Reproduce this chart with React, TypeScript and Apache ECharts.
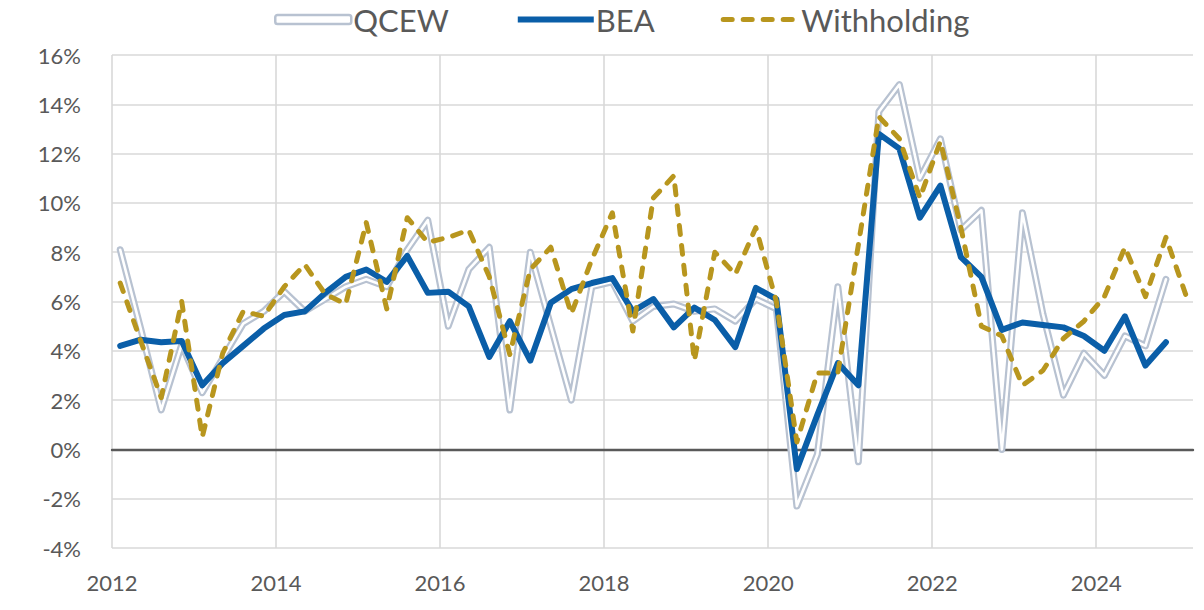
import React, { useEffect, useRef } from "react";
import * as echarts from "echarts";

const startYear = 2012;
const xMin = 2012;
const xMax = 2025.18;
const yMin = -4;
const yMax = 16;

// Quarterly growth rates, 2012Q1 .. 2024Q4 (BEA, QCEW), .. 2025Q1 (Withholding)
const bea = [
  4.2, 4.45, 4.35, 4.4, 2.6, 3.5, 4.2, 4.9, 5.45, 5.6, 6.35, 7.0, 7.3, 6.8, 7.85, 6.35,
  6.4, 5.8, 3.75, 5.2, 3.6, 5.95, 6.5, 6.75, 6.95, 5.6, 6.1, 4.95, 5.75, 5.25, 4.15, 6.55,
  6.1, -0.8, 1.4, 3.5, 2.6, 12.8, 12.2, 9.4, 10.7, 7.8, 7.0, 4.85, 5.15, 5.05, 4.95, 4.6,
  4.0, 5.4, 3.4, 4.35,
];
const qcew = [
  8.1, 4.9, 1.6, 4.25, 2.3, 3.7, 5.1, 5.6, 6.4, 5.6, 6.1, 6.6, 6.9, 6.6, 8.1, 9.3,
  5.0, 7.3, 8.2, 1.6, 8.0, 5.0, 2.0, 6.6, 6.8, 5.2, 5.8, 5.9, 5.6, 5.7, 5.2, 6.1,
  5.7, -2.3, -0.2, 6.6, -0.5, 13.7, 14.8, 11.0, 12.6, 8.9, 9.7, 0.0, 9.6, 5.5, 2.2, 3.9,
  3.0, 4.6, 4.2, 6.9,
];
const withholding = [
  6.75, 4.4, 2.1, 6.0, 0.5, 3.9, 5.6, 5.4, 6.6, 7.5, 6.3, 5.9, 9.2, 5.7, 9.4, 8.4,
  8.6, 8.9, 7.0, 3.85, 7.3, 8.2, 5.5, 7.7, 9.6, 4.8, 10.2, 11.1, 3.6, 8.0, 7.1, 9.0,
  6.0, 0.3, 3.1, 3.1, 8.3, 13.5, 12.6, 10.2, 12.5, 9.0, 5.0, 4.6, 2.6, 3.2, 4.5, 5.2,
  6.2, 8.2, 6.2, 8.6, 6.2,
];

const seriesNames = ["QCEW", "BEA", "Withholding"];

// position of quarter i on the date axis (quarters plotted a little after the year line)
const quarterX = (i: number) => startYear + 0.1 + i * 0.25;
const toPoints = (vals: number[]) => vals.map((v, i) => [quarterX(i), v]);

const TEXT = "#595959";
const FONT = "Lato, 'Open Sans', sans-serif";
const GRID = "#d9d9d9";
const C_QCEW = "#b8c2d1";
const C_BEA = "#0a5ea8";
const C_WH = "#b8961e";
const WH_DASH = [9, 11];

export default function App() {
  const ref = useRef<HTMLDivElement>(null);
  useEffect(() => {
    if (!ref.current) return;
    const chart = echarts.init(ref.current, undefined, { renderer: "svg" });
    chart.setOption({
      animation: false,
      backgroundColor: "#ffffff",
      grid: { left: 112, right: 11, top: 55, bottom: 62, containLabel: false },
      legend: {
        top: 4,
        left: 274,
        itemWidth: 76,
        itemHeight: 9,
        itemGap: 66,
        padding: 0,
        selectedMode: false,
        textStyle: { color: TEXT, fontSize: 31, fontFamily: FONT, padding: [0, 0, 0, -3] },
        data: [
          {
            name: seriesNames[0],
            icon: "roundRect",
            itemStyle: { color: "#ffffff", borderColor: C_QCEW, borderWidth: 2.5 },
          },
          {
            name: seriesNames[1],
            itemStyle: { opacity: 0 },
            lineStyle: { color: C_BEA, width: 6, cap: "butt", opacity: 1 },
          },
          {
            name: seriesNames[2],
            itemStyle: { opacity: 0 },
            lineStyle: { color: C_WH, width: 5, type: WH_DASH, cap: "round", opacity: 1 },
          },
        ],
      },
      xAxis: [
        {
          type: "value",
          min: xMin,
          max: xMax,
          interval: 2,
          axisLine: { show: false },
          axisTick: { show: false },
          axisLabel: {
            color: TEXT,
            fontSize: 22,
            fontFamily: FONT,
            margin: 23,
            showMaxLabel: false,
            formatter: (v: number) => (Number.isInteger(v) ? String(v) : ""),
          },
          splitLine: { show: true, showMaxLine: false, lineStyle: { color: GRID, width: 1.6 } },
        },
        {
          type: "value",
          min: xMin,
          max: xMax,
          position: "bottom",
          axisLine: { show: true, onZero: true, onZeroAxisIndex: 0, lineStyle: { color: TEXT, width: 2.4 } },
          axisTick: { show: false },
          axisLabel: { show: false },
          splitLine: { show: false },
        },
      ],
      yAxis: {
        type: "value",
        min: yMin,
        max: yMax,
        interval: 2,
        axisLine: { show: false },
        axisTick: { show: false },
        axisLabel: {
          color: TEXT,
          fontSize: 22,
          fontFamily: FONT,
          margin: 31,
          formatter: "{value}%",
        },
        splitLine: { show: true, lineStyle: { color: GRID, width: 1.6 } },
      },
      series: [
        {
          name: seriesNames[0],
          type: "line",
          data: toPoints(qcew),
          symbol: "none",
          silent: true,
          color: C_QCEW,
          lineStyle: { color: C_QCEW, width: 7, join: "round", cap: "round" },
          z: 2,
        },
        {
          name: "QCEW inner",
          type: "line",
          data: toPoints(qcew),
          symbol: "none",
          silent: true,
          color: "#ffffff",
          lineStyle: { color: "#ffffff", width: 2.6, join: "round", cap: "round" },
          z: 3,
        },
        {
          name: seriesNames[1],
          type: "line",
          data: toPoints(bea),
          symbol: "none",
          silent: true,
          color: C_BEA,
          lineStyle: { color: C_BEA, width: 6, join: "round", cap: "round" },
          z: 4,
        },
        {
          name: seriesNames[2],
          type: "line",
          data: toPoints(withholding),
          symbol: "none",
          silent: true,
          color: C_WH,
          lineStyle: { color: C_WH, width: 5, type: WH_DASH, cap: "round", join: "round" },
          z: 5,
        },
      ],
    });
    return () => chart.dispose();
  }, []);
  return (
    <div
      ref={ref}
      style={{ position: "fixed", left: 0, top: 0, width: 1204, height: 610, background: "#fff" }}
    />
  );
}
